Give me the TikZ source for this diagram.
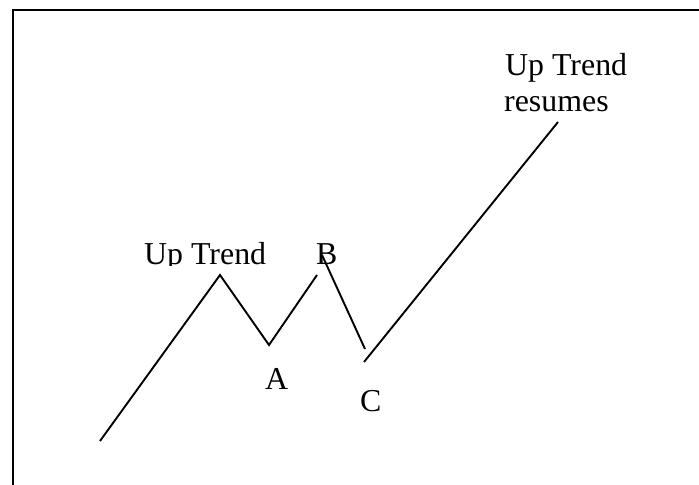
\documentclass[tikz,border=0pt]{standalone}
\usepackage{fontspec}
\setmainfont{Liberation Serif}
\begin{document}
\begin{tikzpicture}[x=1bp,y=-1bp,
  frame/.style={line width=2.2bp},
  trend/.style={line width=1.9bp},
  lbl/.style={font=\fontsize{32}{37}\selectfont, inner sep=0pt, anchor=base west}]
\useasboundingbox (0,0) rectangle (699,485);
\draw[frame] (699,10) -- (13,10) -- (13,485);
% points
\coordinate (p0) at (100,441);
\coordinate (p1) at (220,275);
\coordinate (p2) at (269,345);
\coordinate (p3) at (317,275);
\coordinate (q0) at (322,255);
\coordinate (q1) at (365,349);
\coordinate (r0) at (364,362);
\coordinate (r1) at (558,122);
\draw[trend] (p0) -- (p1) -- (p2) -- (p3);
\draw[trend] (q0) -- (q1);
\draw[trend] (r0) -- (r1);
% labels
\begin{scope}
\clip (100,200) rectangle (300,265);
\node[lbl] (uptrend) at (144,265) {Up Trend};
\end{scope}
\node[lbl] (b) at (316,265) {B};
\node[lbl] (a) at (265,389) {A};
\node[lbl] (c) at (360,411) {C};
\node[lbl] (resumes1) at (505,76) {Up Trend};
\node[lbl] (resumes2) at (504,112) {resumes};
\end{tikzpicture}
\end{document}
